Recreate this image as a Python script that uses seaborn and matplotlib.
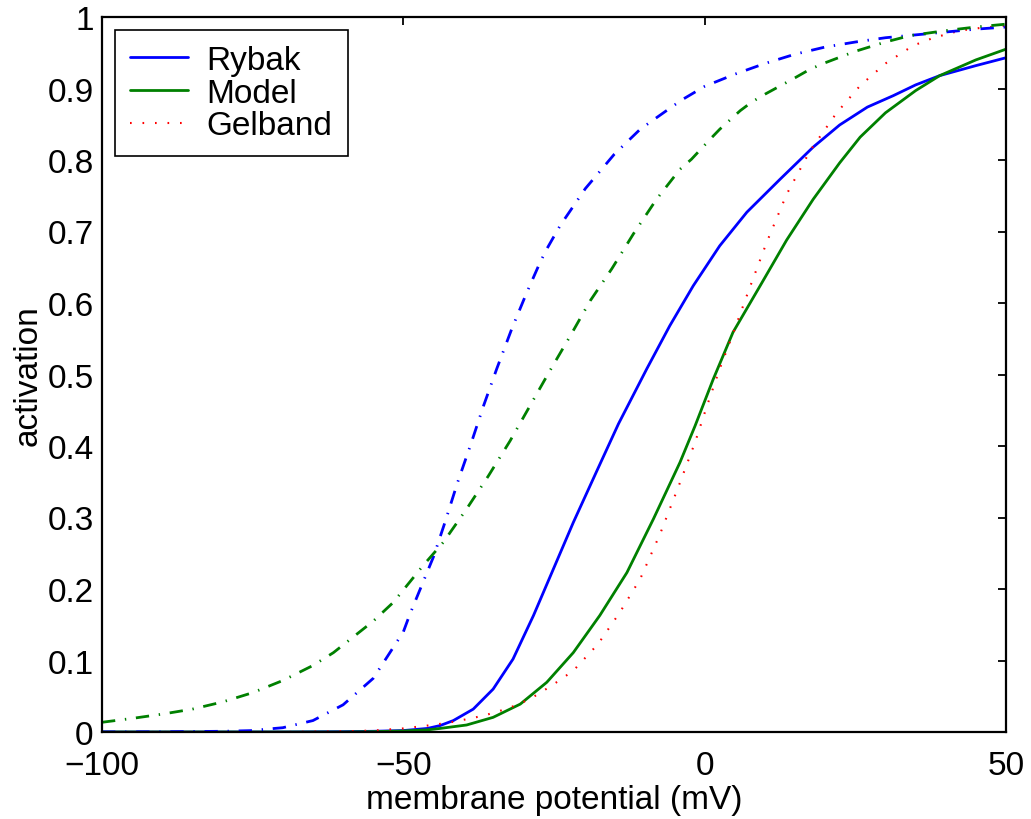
import numpy as np
import pandas as pd
import matplotlib
matplotlib.use("Agg")
import matplotlib.pyplot as plt
import seaborn as sns

# ---- data ----
rybak_x = [-100, -90, -80, -70, -60, -55, -50, -46, -43.9, -41.7, -38.4, -35.1, -31.8, -28.4, -25.1,
           -21.8, -17.9, -14.3, -9.6, -5.8, -1.9, 2.5, 7, 12.5, 18, 22.4, 27, 31.3, 35, 39, 45, 50]
rybak_y = [0.0, 0.0, 0.0, 0.0, 0.0005, 0.001, 0.002, 0.005, 0.009, 0.016, 0.032, 0.060, 0.102, 0.163, 0.228,
           0.293, 0.365, 0.431, 0.508, 0.568, 0.624, 0.68, 0.727, 0.773, 0.818, 0.849, 0.874, 0.89, 0.905, 0.918, 0.932, 0.943]

rybak2_x = [-100, -90, -80, -75, -72.7, -70, -65, -60, -55, -50, -48.9, -45, -43.1, -41, -38.9,
            -36.7, -34.5, -32, -29.5, -27.3, -26.2, -24, -19.8, -15, -10.7, -5, -3.6, 0, 5, 10, 15, 20,
            25, 30, 35, 40, 45, 50]
rybak2_y = [0.0, 0.0003, 0.001, 0.002, 0.004, 0.006, 0.016, 0.038, 0.075, 0.14, 0.165, 0.245, 0.293, 0.349, 0.40,
            0.456, 0.508, 0.564, 0.615, 0.657, 0.6755, 0.708, 0.76, 0.808, 0.843, 0.877, 0.885, 0.903, 0.92, 0.935, 0.948, 0.958,
            0.965, 0.971, 0.975, 0.979, 0.983, 0.986]

model_x = [-100, -90, -80, -70, -60, -55, -50, -46, -43.9, -39.5, -35.1, -30.6, -26.2, -21.8, -17.4,
           -12.9, -8.5, -4.1, -1.6, 1.4, 4.7, 9.2, 13.6, 18, 22.4, 25.8, 30, 35, 39, 45, 50]
model_y = [0.0, 0.0, 0.0, 0.0, 0.0, 0.0005, 0.0015, 0.003, 0.005, 0.0098, 0.0205, 0.039, 0.0695, 0.111, 0.163,
           0.223, 0.298, 0.377, 0.428, 0.493, 0.559, 0.624, 0.688, 0.745, 0.796, 0.832, 0.866, 0.897, 0.918, 0.94, 0.955]

model2_x = [-100, -95, -90, -85, -80, -75, -70, -65, -61.6, -55, -51.7, -46.7, -43.4, -39.5, -35.9,
            -32.3, -29, -25.7, -22.3, -19, -15.4, -11.8, -8, -4.1, -2.2, 0.9, 2.5, 5.9, 7.8, 10, 15, 17.5, 20,
            25, 30, 34.1, 40, 45, 50]
model2_y = [0.0136, 0.019, 0.025, 0.032, 0.042, 0.055, 0.072, 0.093, 0.111, 0.155, 0.181, 0.233, 0.265, 0.312, 0.358,
            0.407, 0.456, 0.505, 0.554, 0.603, 0.648, 0.697, 0.745, 0.787, 0.801, 0.829, 0.843, 0.869, 0.881, 0.892, 0.915, 0.927, 0.936,
            0.952, 0.965, 0.974, 0.981, 0.986, 0.99]

gel_x = [-100, -90, -80, -70, -60, -55, -50, -46, -42.8, -40.6, -36.7, -32.6, -29, -25.4, -21.8,
         -17.7, -14.1, -10.7, -7.4, -4.4, -1.6, 0.3, 2.5, 4.7, 7.5, 10.3, 13.6, 17.5, 21.9, 25.8,
         30, 34.6, 38, 42.4, 46, 50]
gel_y = [0.0, 0.0, 0.0, 0.0, 0.001, 0.002, 0.005, 0.009, 0.0126, 0.016, 0.0228, 0.033, 0.046, 0.0648, 0.0857,
         0.123, 0.167, 0.214, 0.277, 0.342, 0.405, 0.454, 0.508, 0.557, 0.622, 0.685, 0.752, 0.813, 0.866, 0.904,
         0.935, 0.96, 0.971, 0.981, 0.985, 0.988]

legend_labels = ["Rybak", "Model", "Gelband"]
x_ticks = [-100, -50, 0, 50]
y_ticks = [0, 0.1, 0.2, 0.3, 0.4, 0.5, 0.6, 0.7, 0.8, 0.9, 1]
y_tick_labels = ["0", "0.1", "0.2", "0.3", "0.4", "0.5", "0.6", "0.7", "0.8", "0.9", "1"]

# ---- style ----
sns.set_style("white")
plt.rcParams['font.family'] = ['Liberation Sans', 'DejaVu Sans']
plt.rcParams['axes.unicode_minus'] = True
plt.rcParams['text.color'] = 'black'
plt.rcParams['axes.labelcolor'] = 'black'
plt.rcParams['xtick.color'] = 'black'
plt.rcParams['ytick.color'] = 'black'

BLUE = (0, 0, 1)
GREEN = (0, 0.5, 0)
RED = (1, 0, 0)
DASHDOT = (0, (4.8, 3.5, 0.5, 3.5))
DOTTED = (0, (0.8, 5.2))

fig = plt.figure(figsize=(10.31, 8.2), dpi=100)
ax = fig.add_axes([102 / 1031, 1 - 733 / 820, (1006 - 102) / 1031, (733 - 18) / 820])

def draw(xs, ys, color, ls, lw, label=None):
    sns.lineplot(x=xs, y=ys, ax=ax, color=color, linewidth=lw, label=label,
                 estimator=None, sort=False)
    line = ax.lines[-1]
    line.set_linestyle(ls)
    line.set_solid_joinstyle('round')
    return line

l1 = draw(rybak_x, rybak_y, BLUE, '-', 2.0, legend_labels[0])
l2 = draw(model_x, model_y, GREEN, '-', 2.0, legend_labels[1])
l3 = draw(gel_x, gel_y, RED, DOTTED, 1.5, legend_labels[2])
draw(rybak2_x, rybak2_y, BLUE, DASHDOT, 2.0)
draw(model2_x, model2_y, GREEN, DASHDOT, 2.0)

ax.set_xlim(-100, 50)
ax.set_ylim(0, 1)
ax.set_xticks(x_ticks)
ax.set_yticks(y_ticks)
ax.set_yticklabels(y_tick_labels)
ax.tick_params(direction='in', length=6, width=1.3, top=True, right=True,
               labelsize=24, colors='black', labelcolor='black')
ax.tick_params(axis='x', pad=13)
ax.tick_params(axis='y', pad=6)
for s in ax.spines.values():
    s.set_visible(True)
    s.set_linewidth(1.6)
    s.set_color('black')

ax.set_xlabel("membrane potential (mV)", fontsize=24, labelpad=2, color='black')
ax.set_ylabel("activation", fontsize=24, labelpad=3, color='black')

leg = ax.legend(handles=[l1, l2, l3], labels=legend_labels, loc='upper left',
                fontsize=24, frameon=True, fancybox=False, framealpha=1,
                edgecolor='black', borderaxespad=0.39, handlelength=1.75,
                handletextpad=0.55, labelspacing=0.05, borderpad=0.45)
leg.get_frame().set_linewidth(1.2)
for t in leg.get_texts():
    t.set_color('black')

fig.savefig("out.png", dpi=100)
